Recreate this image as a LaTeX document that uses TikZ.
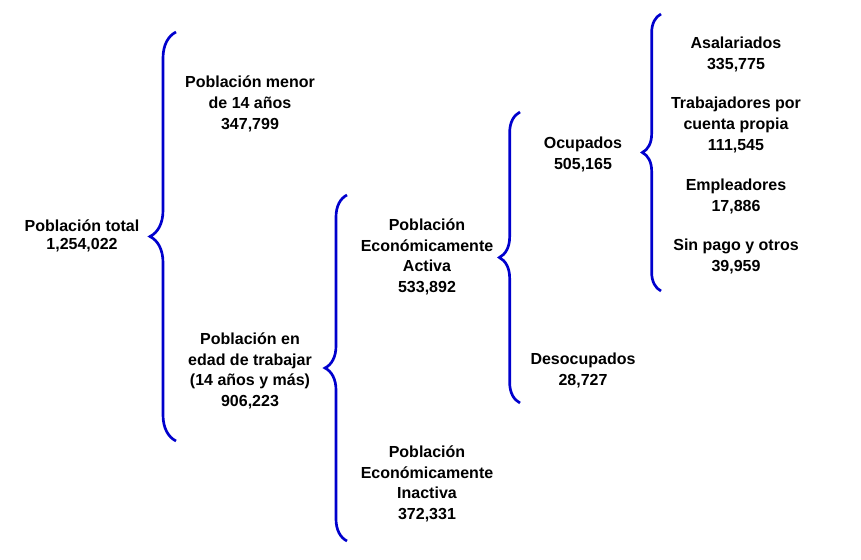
\documentclass[tikz,border=0pt]{standalone}
\usepackage{fontspec}
\setmainfont{Liberation Sans}
\usetikzlibrary{decorations.pathreplacing}
\definecolor{llave}{RGB}{0,0,205}
\begin{document}
\begin{tikzpicture}[x=0.75pt, y=-0.75pt,
        txt/.style={align=center, font=\bfseries\fontsize{12}{15.5}\selectfont, inner sep=0pt},
        llaves/.style={draw=llave, line width=2pt, decorate, decoration={brace, amplitude=#1}}]
        \useasboundingbox (0,0) rectangle (861,560);
        % ---- nivel 1 ----
        \node[txt] (tot) at (82, 236) {Población total\\[-2.5pt]1,254,022};
        % ---- nivel 2 ----
        \node[txt] (men) at (250, 104) {Población menor\\de 14 años\\347,799};
        \node[txt] (edad) at (250, 371) {Población en\\edad de trabajar\\(14 años y más)\\906,223};
        % ---- nivel 3 ----
        \node[txt] (pea) at (427, 257) {Población\\Económicamente\\Activa\\533,892};
        \node[txt] (pei) at (427, 484) {Población\\Económicamente\\Inactiva\\372,331};
        % ---- nivel 4 ----
        \node[txt] (ocu) at (583, 154.5) {Ocupados\\505,165};
        \node[txt] (des) at (583, 370.5) {Desocupados\\28,727};
        % ---- nivel 5 ----
        \node[txt] (asa) at (736, 54.5)  {Asalariados\\335,775};
        \node[txt] (cta) at (736, 125) {Trabajadores por\\cuenta propia\\111,545};
        \node[txt] (emp) at (736, 196.5) {Empleadores\\17,886};
        \node[txt] (sin) at (736, 256.5) {Sin pago y otros\\39,959};
        % ---- llaves ----
        \coordinate (l1a) at (176, 441);
        \coordinate (l1b) at (176, 32);
        \coordinate (l2a) at (347, 541);
        \coordinate (l2b) at (347, 195);
        \coordinate (l3a) at (520, 403);
        \coordinate (l3b) at (520, 112);
        \coordinate (l4a) at (661, 291);
        \coordinate (l4b) at (661, 14);
        \draw[llaves=19.5pt] (l1a) -- (l1b);
        \draw[llaves=16.5pt] (l2a) -- (l2b);
        \draw[llaves=15.5pt] (l3a) -- (l3b);
        \draw[llaves=14pt] (l4a) -- (l4b);
    \end{tikzpicture}
\end{document}
